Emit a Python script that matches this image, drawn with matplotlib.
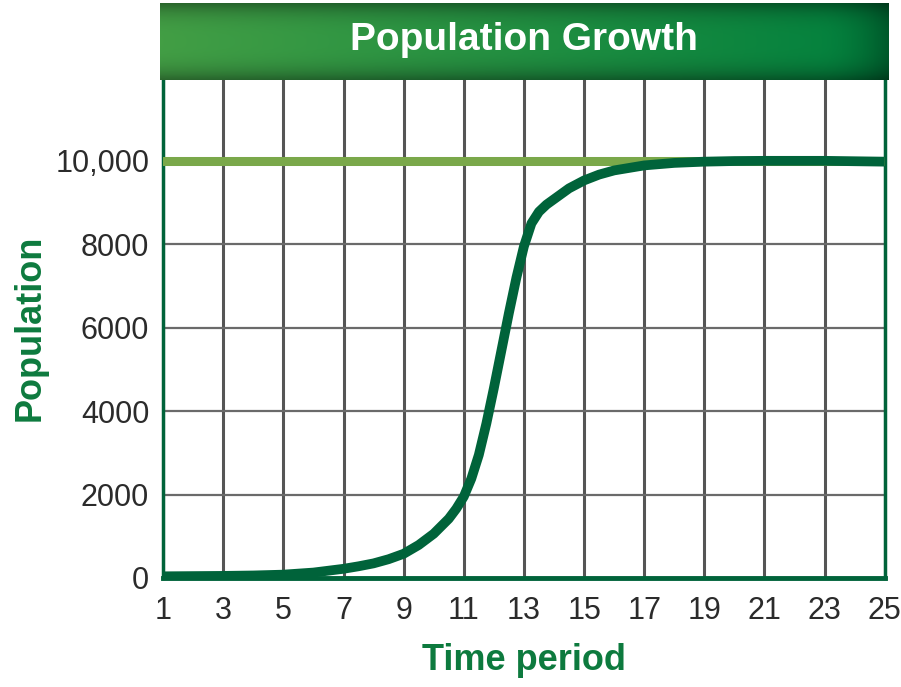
import numpy as np
import matplotlib
matplotlib.use("Agg")
import matplotlib.pyplot as plt

# Data
time = [1, 2, 3, 4, 5, 6, 7, 7.5, 8, 8.5, 9, 9.5, 10, 10.5, 10.75, 11, 11.25,
        11.5, 11.75, 12, 12.25, 12.5, 12.75, 13, 13.25, 13.5, 13.75, 14, 14.5,
        15, 15.5, 16, 17, 18, 19, 20, 21, 22, 23, 24, 25]
population = [40, 45, 50, 60, 80, 130, 220, 280, 350, 450, 580, 790, 1060,
              1420, 1660, 1950, 2380, 2950, 3700, 4550, 5450, 6350, 7200, 7950,
              8500, 8780, 8950, 9080, 9340, 9530, 9670, 9770, 9890, 9950, 9980,
              9995, 10000, 10000, 10000, 9990, 9980]
carrying_capacity = 10000
x_ticks = list(range(1, 26, 2))
y_ticks = [0, 2000, 4000, 6000, 8000, 10000]
y_tick_labels = ['0', '2000', '4000', '6000', '8000', '10,000']

plt.rcParams['font.family'] = ['Liberation Sans', 'DejaVu Sans']

fig = plt.figure(figsize=(9.01, 6.87), dpi=100)
ax = fig.add_axes([0.181, 0.1587, 0.801, 0.725])

curve_green = '#00633a'
label_green = '#0d7a3e'

ax.plot(time, population, color=curve_green, lw=7, solid_capstyle='butt',
        solid_joinstyle='round', zorder=4)
ax.axhline(carrying_capacity, color='#7aa84a', lw=6.5, zorder=3)

ax.set_xlim(1, 25)
ax.set_ylim(0, 11940)
ax.set_xticks(x_ticks)
ax.set_yticks(y_ticks)
ax.set_yticklabels(y_tick_labels)
ax.tick_params(length=0, labelsize=22, colors='#2b2b2b')
ax.tick_params(axis='x', pad=13)
ax.tick_params(axis='y', pad=10)

ax.grid(axis='x', color='#555555', lw=2.2, zorder=1)
ax.grid(axis='y', color='#6a6a6a', lw=1.6, zorder=1)
ax.set_axisbelow(True)

for side in ['left', 'right', 'bottom']:
    ax.spines[side].set_color(curve_green)
    ax.spines[side].set_linewidth(2.5)
ax.spines['bottom'].set_linewidth(3.5)
ax.spines['top'].set_visible(False)

# title banner with green gradient
banner = fig.add_axes([0.1776, 0.8836, 0.808, 0.112])
h = np.linspace(0, 1, 400)
v = np.linspace(-1, 1, 60)
left_c = np.array([0.26, 0.62, 0.27])
right_c = np.array([0.0, 0.50, 0.24])
base = left_c[None, None, :] * (1 - h[None, :, None]) + right_c[None, None, :] * h[None, :, None]
shade = 1 - 0.35 * np.abs(v)[:, None, None] ** 3
edge = 1 - 0.3 * (np.maximum(0, (h - 0.9) / 0.1) ** 2)[None, :, None]
img = np.clip(base * shade * edge, 0, 1)
banner.imshow(img, aspect='auto', extent=[0, 1, 0, 1])
banner.set_axis_off()
banner.text(0.5, 0.52, 'Population Growth', color='white', fontsize=28,
            fontweight='bold', ha='center', va='center', transform=banner.transAxes)

fig.text(524 / 901, 1 - 660 / 687, 'Time period', color=label_green, fontsize=26,
         fontweight='bold', ha='center', va='center')
fig.text(30 / 901, 1 - 328 / 687, 'Population', color=label_green, fontsize=26,
         fontweight='bold', ha='center', va='center', rotation=90)

fig.savefig('out.png', dpi=100)
